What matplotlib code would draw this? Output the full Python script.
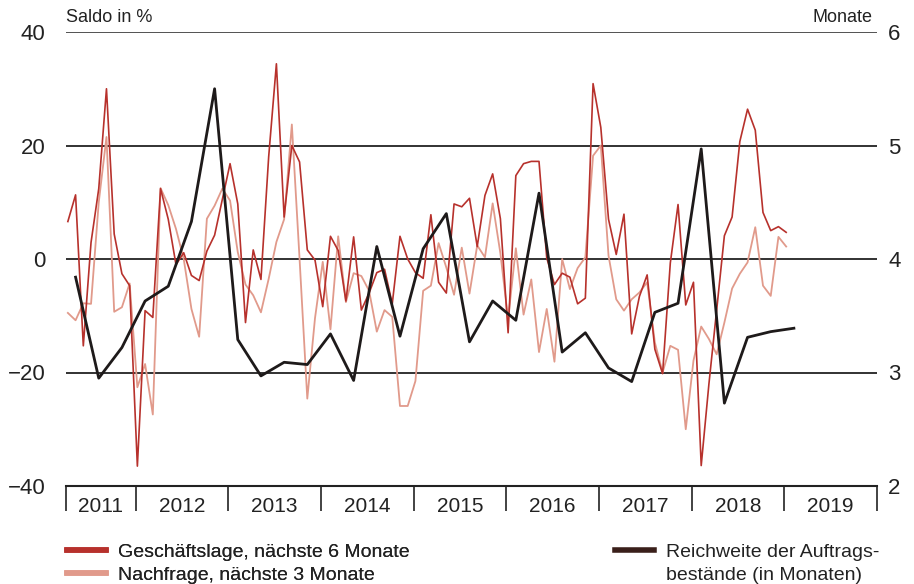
import numpy as np
import matplotlib.pyplot as plt
from matplotlib.lines import Line2D

plt.rcParams['font.family'] = ['Liberation Sans', 'DejaVu Sans']

# monthly survey balances, Apr 2011 - Jan 2019 (Saldo in %)
geschaeftslage = [6.6, 11.3, -15.3, 2.9, 12.4, 30.0, 4.4, -2.6, -4.7, -36.5,
                  -9.1, -10.3, 12.4, 7.0, -1.0, 1.1, -2.9, -3.8, 1.4, 4.2,
                  10.5, 16.8, 9.7, -11.2, 1.6, -3.6, 18.0, 34.4, 7.4, 20.0,
                  17.1, 1.6, -0.2, -8.4, 4.0, 1.5, -7.4, 3.9, -9.0, -6.0,
                  -2.4, -1.8, -7.9, 4.0, 0.0, -2.4, -3.4, 7.8, -4.1, -6.0,
                  9.7, 9.2, 10.7, 2.2, 11.2, 15.0, 7.1, -13.0, 14.7, 16.8,
                  17.2, 17.2, 0.2, -4.5, -2.5, -3.2, -7.9, -6.9, 30.9, 23.2,
                  7.0, 0.8, 7.9, -13.2, -6.6, -2.8, -15.9, -20.2, -0.7, 9.6,
                  -8.1, -4.1, -36.4, -22.0, -9.0, 4.1, 7.4, 20.7, 26.4, 22.7,
                  8.2, 5.0, 5.7, 4.7]
nachfrage = [-9.5, -10.8, -7.8, -7.9, 10.0, 21.5, -9.3, -8.5, -4.3, -22.6,
             -18.5, -27.4, 12.5, 9.5, 5.3, 0.0, -8.8, -13.7, 7.1, 9.4,
             12.4, 10.3, 1.2, -4.5, -6.4, -9.4, -3.5, 3.0, 7.0, 23.7,
             0.0, -24.6, -10.4, -0.5, -12.4, 4.0, -7.6, -2.5, -3.0, -5.6,
             -12.8, -9.0, -10.2, -25.9, -25.9, -21.5, -5.6, -4.7, 2.8, -1.5,
             -6.3, 2.0, -6.1, 2.4, 0.3, 9.8, 1.0, -10.6, 1.9, -9.8,
             -3.6, -16.4, -8.8, -18.1, 0.0, -5.3, -1.6, 0.3, 18.2, 20.0,
             0.6, -7.1, -9.1, -7.1, -5.9, -4.1, -14.7, -20.0, -15.3, -16.0,
             -30.0, -17.9, -11.9, -14.1, -16.8, -11.2, -5.2, -2.6, -0.6, 5.6,
             -4.7, -6.5, 3.9, 2.2]
# quarterly, Q2 2011 - Q1 2019 (months)
reichweite = [3.84, 2.95, 3.22, 3.63, 3.76, 4.33, 5.50, 3.29, 2.97, 3.09,
              3.07, 3.34, 2.93, 4.11, 3.32, 4.09, 4.40, 3.27, 3.63, 3.46,
              4.58, 3.18, 3.35, 3.04, 2.92, 3.53, 3.61, 4.97, 2.73, 3.31,
              3.36, 3.39]
years = list(range(2011, 2020))

c_dark = '#b7312c'
c_light = '#e19a8b'
c_black = '#1e1a1a'

t_month = 2011.25 + np.arange(len(geschaeftslage)) / 12 + 0.02
t_quarter = 2011.25 + np.arange(len(reichweite)) / 4 + 1 / 12 + 0.02

fig = plt.figure(figsize=(9.14, 5.84), dpi=100)
ax = fig.add_axes([66 / 914, 1 - 486 / 584, (877 - 66) / 914, (486 - 32) / 584])
ax2 = ax.twinx()

ax.set_xlim(2011.25, 2020)
ax.set_ylim(-40, 40)
ax2.set_ylim(2, 6)

for y in [20, 0, -20]:
    ax.axhline(y, color='#222222', lw=1.3, zorder=1)
ax.axhline(40, color='#444444', lw=1.3, zorder=1)

ax.plot(t_month, nachfrage, color=c_light, lw=1.3, zorder=3)
ax.plot(t_month, geschaeftslage, color=c_dark, lw=1.2, zorder=4)
ax2.plot(t_quarter, reichweite, color=c_black, lw=2.0, zorder=5)

for a in (ax, ax2):
    for s in ['top', 'left', 'right']:
        a.spines[s].set_visible(False)
ax2.spines['bottom'].set_visible(False)
ax.spines['bottom'].set_color('#222222')
ax.spines['bottom'].set_linewidth(1.5)

ax.set_yticks([-40, -20, 0, 20, 40])
ax.set_yticklabels(['\u221240', '\u221220', '0', '20', '40'])
ax.tick_params(axis='y', length=0, pad=15, labelsize=16, labelcolor='#222222')
ax2.set_yticks([2, 3, 4, 5, 6])
ax2.tick_params(axis='y', length=0, pad=8, labelsize=16, labelcolor='#222222')

ax.set_xticks([2011.25] + [y + 1 for y in years])
ax.set_xticklabels([])
ax.tick_params(axis='x', which='major', length=18, width=1.2, color='#222222')
ax.set_xticks([(max(y, 2011.25) + y + 1) / 2 for y in years], minor=True)
ax.set_xticklabels([str(y) for y in years], minor=True)
ax.tick_params(axis='x', which='minor', length=0, pad=8, labelsize=15, labelcolor='#222222')

fig.text(66 / 914, 1 - 26 / 584, 'Saldo in %', fontsize=13, color='#222222', va='bottom')
fig.text(872 / 914, 1 - 26 / 584, 'Monate', fontsize=13, color='#222222', va='bottom', ha='right')

h1 = Line2D([], [], color=c_dark, lw=4)
h2 = Line2D([], [], color=c_light, lw=4)
h3 = Line2D([], [], color='#3a1f1a', lw=4)
h4 = Line2D([], [], color='none', lw=4)
leg_kw = dict(loc='upper left', frameon=False, fontsize=14, handlelength=2.0,
              handletextpad=0.6, labelspacing=0.3, borderaxespad=0, borderpad=0,
              labelcolor='#222222')
leg1 = fig.legend([h1, h2], ['Geschäftslage, nächste 6 Monate', 'Nachfrage, nächste 3 Monate'],
                  bbox_to_anchor=(67 / 914, 1 - 543 / 584), **leg_kw)
fig.add_artist(leg1)
fig.legend([h3, h4], ['Reichweite der Auftrags-', 'bestände (in Monaten)'],
           bbox_to_anchor=(615 / 914, 1 - 543 / 584), **leg_kw)

fig.savefig('out.png', dpi=100)
